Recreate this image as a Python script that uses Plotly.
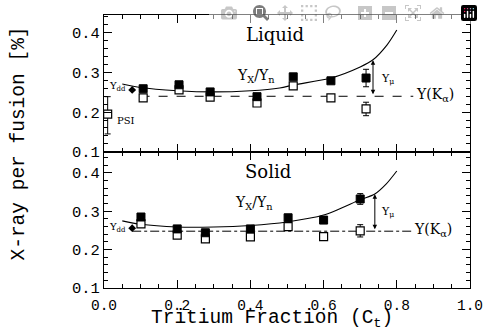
import plotly.graph_objects as go

# ---------------- data ----------------
liq_x = [0.107, 0.205, 0.29, 0.418, 0.517, 0.62, 0.716]
liq_filled = [0.259, 0.269, 0.251, 0.239, 0.289, 0.279, 0.286]
liq_filled_err = [0.006, 0.006, 0.006, 0.006, 0.007, 0.007, 0.022]
liq_open = [0.236, 0.256, 0.238, 0.223, 0.266, 0.236, 0.208]
liq_open_err = [0.006, 0.006, 0.006, 0.006, 0.006, 0.007, 0.017]
psi_x = [0.01]
psi_y = [0.195]
psi_err_plus = [0.044]
psi_err_minus = [0.05]

sol_x = [0.101, 0.2, 0.277, 0.4, 0.503, 0.6, 0.70]
sol_filled = [0.285, 0.254, 0.244, 0.254, 0.283, 0.277, 0.332]
sol_filled_err = [0.007, 0.006, 0.006, 0.006, 0.008, 0.007, 0.014]
sol_open = [0.267, 0.238, 0.228, 0.233, 0.26, 0.234, 0.249]
sol_open_err = [0.006, 0.006, 0.008, 0.006, 0.006, 0.007, 0.016]

# Y_X/Y_n curves
liq_curve_x = [0.05, 0.1, 0.2, 0.3, 0.4, 0.48, 0.52, 0.62, 0.7, 0.735, 0.773, 0.8]
liq_curve_y = [0.271, 0.262, 0.254, 0.251, 0.254, 0.261, 0.269, 0.286, 0.314, 0.332, 0.369, 0.407]
sol_curve_x = [0.05, 0.1, 0.2, 0.3, 0.4, 0.5, 0.6, 0.7, 0.74, 0.77, 0.8]
sol_curve_y = [0.275, 0.266, 0.259, 0.259, 0.263, 0.272, 0.29, 0.33, 0.345, 0.37, 0.405]

# Y(K_alpha) levels
liq_ka_x = [0.1, 0.845]
liq_ka_y = [0.240, 0.240]
sol_ka_x = [0.077, 0.84]
sol_ka_y = [0.248, 0.248]

ydd_x = [0.077]
liq_ydd_y = [0.256]
sol_ydd_y = [0.256]

x_ticks = [0.0, 0.2, 0.4, 0.6, 0.8, 1.0]
y_ticks = [0.1, 0.2, 0.3, 0.4]

SERIF = "DejaVu Serif"
MONO = "Liberation Mono"
fig = go.Figure()

def add_panel(xa, ya, cx, cy, kx, ky, kdash, fx, fy, fe, ox, oy, oe, yddy):
    fig.add_trace(go.Scatter(x=cx, y=cy, mode="lines", line=dict(color="black", width=1.1, shape="spline", smoothing=0.8),
                             xaxis=xa, yaxis=ya, showlegend=False, hoverinfo="skip"))
    fig.add_trace(go.Scatter(x=kx, y=ky, mode="lines", line=dict(color="black", width=1, dash=kdash),
                             xaxis=xa, yaxis=ya, showlegend=False, hoverinfo="skip"))
    fig.add_trace(go.Scatter(x=ox, y=oy, mode="markers",
                             marker=dict(symbol="square", size=8, color="white", line=dict(color="black", width=1.2)),
                             error_y=dict(type="data", array=oe, color="black", thickness=1, width=3),
                             xaxis=xa, yaxis=ya, showlegend=False))
    fig.add_trace(go.Scatter(x=fx, y=fy, mode="markers",
                             marker=dict(symbol="square", size=8, color="black", line=dict(color="black", width=1)),
                             error_y=dict(type="data", array=fe, color="black", thickness=1, width=3),
                             xaxis=xa, yaxis=ya, showlegend=False))
    fig.add_trace(go.Scatter(x=ydd_x, y=yddy, mode="markers",
                             marker=dict(symbol="diamond", size=6, color="black"),
                             xaxis=xa, yaxis=ya, showlegend=False))

add_panel("x", "y", liq_curve_x, liq_curve_y, liq_ka_x, liq_ka_y, "dash",
          liq_x, liq_filled, liq_filled_err, liq_x, liq_open, liq_open_err, liq_ydd_y)
add_panel("x2", "y2", sol_curve_x, sol_curve_y, sol_ka_x, sol_ka_y, "dashdot",
          sol_x, sol_filled, sol_filled_err, sol_x, sol_open, sol_open_err, sol_ydd_y)

# PSI point
fig.add_trace(go.Scatter(x=psi_x, y=psi_y, mode="markers",
                         marker=dict(symbol="square", size=8, color="white", line=dict(color="black", width=1.2)),
                         error_y=dict(type="data", symmetric=False, array=psi_err_plus, arrayminus=psi_err_minus,
                                      color="black", thickness=1, width=3),
                         xaxis="x", yaxis="y", showlegend=False, cliponaxis=False))

ann = []
def txt(x, y, t, xr, yr, size=13, xanchor="center"):
    ann.append(dict(x=x, y=y, xref=xr, yref=yr, text=t, showarrow=False, xanchor=xanchor,
                    font=dict(family=SERIF, size=size, color="black")))

def arrow(x, y0, y1, xr, yr):
    ann.append(dict(x=x, y=y1, ax=x, ay=y0, xref=xr, yref=yr, axref=xr, ayref=yr, text="",
                    showarrow=True, arrowhead=2, startarrowhead=2, arrowside="end+start",
                    arrowsize=0.9, startarrowsize=0.9, arrowwidth=1, arrowcolor="black"))

txt(0.467, 0.395, "Liquid", "x", "y", 18)
txt(0.448, 0.403, "Solid", "x2", "y2", 18)
txt(0.415, 0.29, "Y<sub>X</sub>/Y<sub>n</sub>", "x", "y", 14)
txt(0.41, 0.322, "Y<sub>X</sub>/Y<sub>n</sub>", "x2", "y2", 14)
txt(0.752, 0.284, "Y<sub>μ</sub>", "x", "y", 11, "left")
txt(0.752, 0.298, "Y<sub>μ</sub>", "x2", "y2", 11, "left")
txt(0.847, 0.242, "Y(K<sub>α</sub>)", "x", "y", 14, "left")
txt(0.842, 0.250, "Y(K<sub>α</sub>)", "x2", "y2", 14, "left")
txt(0.008, 0.264, "Y<sub>dd</sub>", "x", "y", 10, "left")
txt(0.008, 0.257, "Y<sub>dd</sub>", "x2", "y2", 10, "left")
txt(0.03, 0.178, "PSI", "x", "y", 10, "left")
arrow(0.735, 0.241, 0.331, "x", "y")
arrow(0.74, 0.249, 0.344, "x2", "y2")

# axis titles as paper annotations (pixel placement)
ann.append(dict(x=0.5, y=0, xref="paper", yref="paper", xshift=-15, yshift=-31,
                xanchor="center", yanchor="middle",
                text="Tritium Fraction (C<sub>t</sub>)", showarrow=False,
                font=dict(family=MONO, size=19.5, color="black")))
ann.append(dict(x=0, y=0.5, xref="paper", yref="paper", xshift=-86, yshift=8,
                xanchor="center", yanchor="middle",
                text="X-ray per fusion [%]", textangle=-90, showarrow=False,
                font=dict(family=MONO, size=19.5, color="black")))

axis_common = dict(showline=True, linecolor="black", linewidth=1, mirror="allticks", automargin=False,
                   ticks="inside", ticklen=8, tickcolor="black", showgrid=False, zeroline=False,
                   ticklabeloverflow="allow")
minor_x = dict(dtick=0.05, ticklen=4, ticks="inside", tickcolor="black")
minor_y = dict(dtick=0.02, ticklen=4, ticks="inside", tickcolor="black")

fig.update_layout(
    width=483, height=333,
    margin=dict(l=104, r=13, t=15, b=45, autoexpand=False),
    paper_bgcolor="white", plot_bgcolor="white",
    annotations=ann,
    xaxis=dict(axis_common, domain=[0, 1], range=[0, 1], anchor="y", showticklabels=False,
               tickvals=x_ticks, minor=minor_x),
    xaxis2=dict(axis_common, domain=[0, 1], range=[0, 1], anchor="y2", matches="x",
                tickvals=x_ticks, tickformat=".1f", minor=minor_x, ticklabelstandoff=4,
                tickfont=dict(family=MONO, size=14.5, color="black")),
    yaxis=dict(axis_common, domain=[0.499, 1], range=[0.1, 0.445], anchor="x",
               tickvals=y_ticks, tickformat=".1f", minor=minor_y,
               tickfont=dict(family=MONO, size=15.5, color="black")),
    yaxis2=dict(axis_common, domain=[0, 0.499], range=[0.1, 0.455], anchor="x2",
                tickvals=y_ticks, tickformat=".1f", minor=minor_y,
                tickfont=dict(family=MONO, size=15.5, color="black")),
)

# remove the default page margin so the 483x333 figure fills the window exactly
fig.write_html("out.html",
               post_script="document.body.style.margin='0';"
                           "document.documentElement.style.overflow='hidden';")
